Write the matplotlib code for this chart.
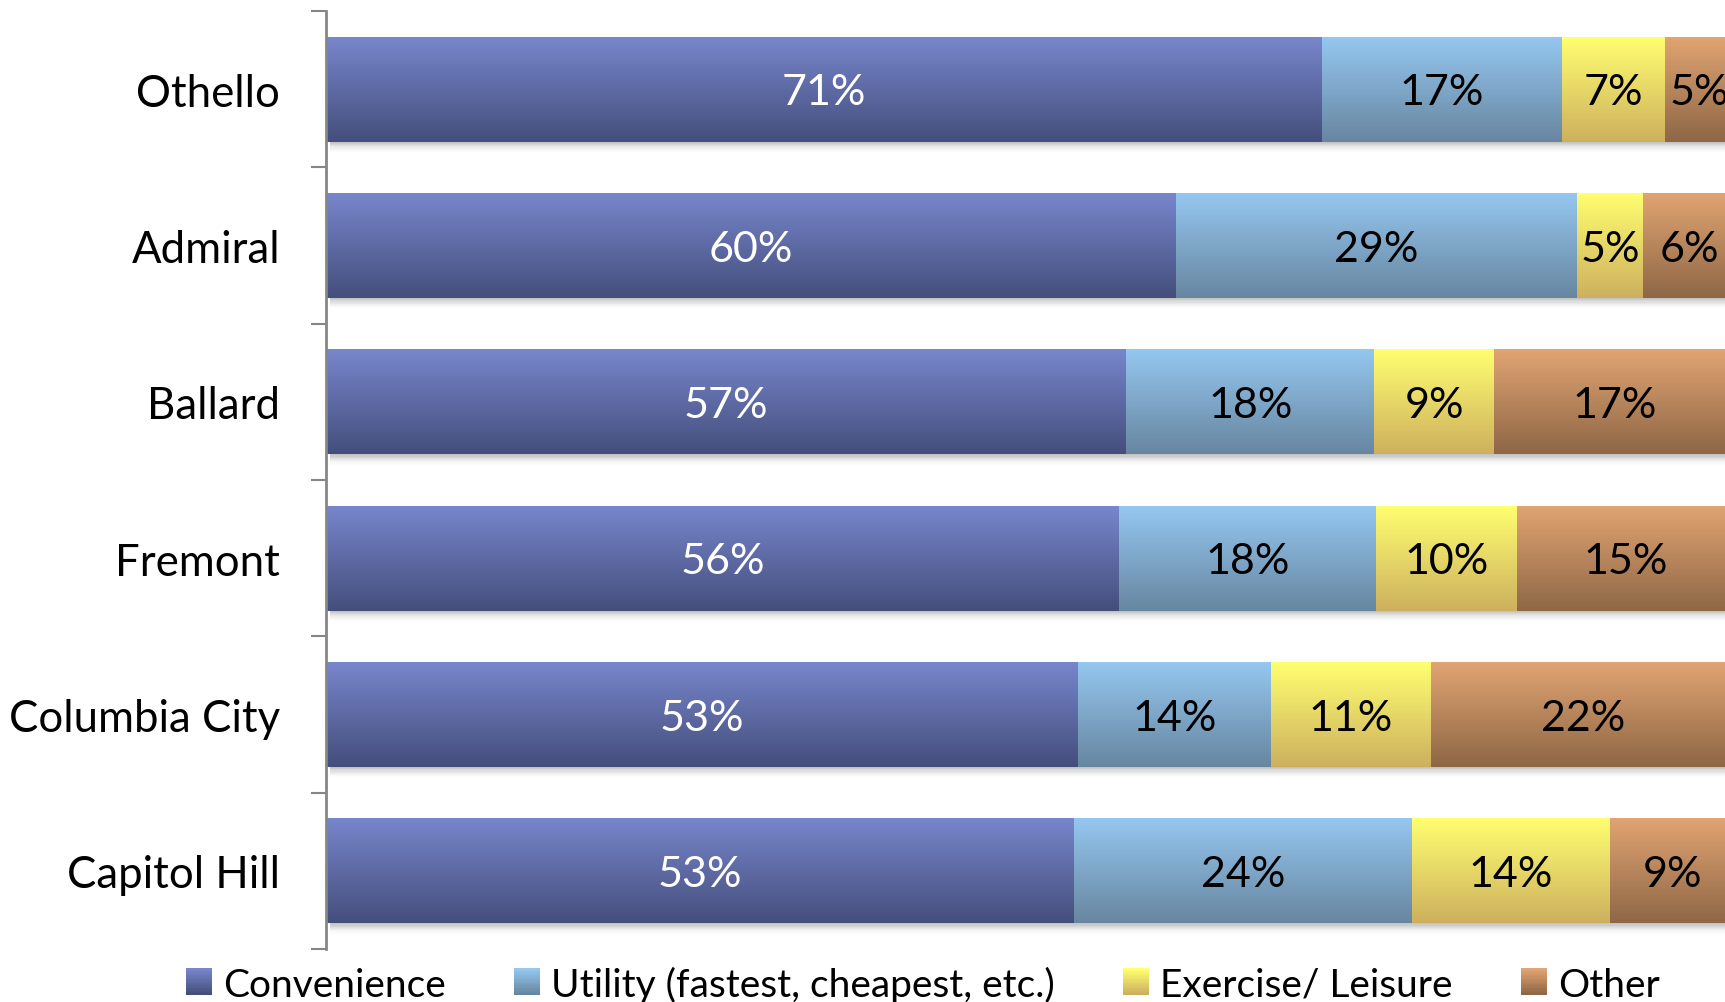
import numpy as np
import matplotlib
matplotlib.use("Agg")
import matplotlib.pyplot as plt
from matplotlib.colors import LinearSegmentedColormap
from matplotlib.patches import Rectangle
from matplotlib.legend_handler import HandlerBase

plt.rcParams['font.family'] = ['Lato', 'DejaVu Sans']

categories = ["Othello", "Admiral", "Ballard", "Fremont", "Columbia City", "Capitol Hill"]
series = ["Convenience", "Utility (fastest, cheapest, etc.)", "Exercise/ Leisure", "Other"]
convenience = [70.7, 60.3, 56.8, 56.3, 53.4, 53.1]
utility = [17.0, 28.5, 17.6, 18.2, 13.7, 24.0]
exercise = [7.3, 4.7, 8.5, 10.0, 11.3, 14.0]
other = [5.0, 6.5, 17.1, 15.5, 21.6, 8.9]
conv_lbl = [71, 60, 57, 56, 53, 53]
util_lbl = [17, 29, 18, 18, 14, 24]
exer_lbl = [7, 5, 9, 10, 11, 14]
other_lbl = [5, 6, 17, 15, 22, 9]

values = [convenience, utility, exercise, other]
labels = [conv_lbl, util_lbl, exer_lbl, other_lbl]
grad = [("#7886CC", "#444E7C"), ("#95C7F0", "#6786A0"),
        ("#FFFF70", "#CDB05E"), ("#E1A472", "#8E6746")]
text_colors = ["white", "black", "black", "black"]

W, H = 1725, 1003
fig = plt.figure(figsize=(W / 100, H / 100), dpi=100)
# the plot area runs slightly past the right edge of the figure (as in the reference)
ax = fig.add_axes([326 / W, 1 - 950 / H, (1735 - 326) / W, (950 - 12) / H])

y = np.arange(len(categories))
left = np.zeros(len(categories))
bar_h = 0.67
FS_CAT = 31.5
FS_BAR = 31
FS_LEG = 28

def gradient_img(ax, x0, y0, w, h, c_top, c_bot, z):
    cmap = LinearSegmentedColormap.from_list("g", [c_top, c_bot])
    g = np.linspace(0, 1, 256).reshape(-1, 1)
    ax.imshow(g, cmap=cmap, aspect='auto', extent=(x0, x0 + w, y0 + h, y0),
              origin='upper', zorder=z, interpolation='bilinear')

for i, (vals, lbls) in enumerate(zip(values, labels)):
    bars = ax.barh(y, vals, left=left, height=bar_h, color=grad[i][0], zorder=2)
    for b, lab in zip(bars, lbls):
        gradient_img(ax, b.get_x(), b.get_y(), b.get_width(), b.get_height(),
                     grad[i][0], grad[i][1], 3)
        ax.text(b.get_x() + b.get_width() / 2, b.get_y() + b.get_height() / 2 + 0.02,
                f"{lab}%", ha='center', va='center', fontsize=FS_BAR,
                color=text_colors[i], zorder=5)
    left = left + np.array(vals)

# soft shadow under each row of bars
for j in range(len(categories)):
    yb = y[j] + bar_h / 2
    nsteps = 10
    for k in range(nsteps):
        d = 0.075 * (k + 1) / nsteps
        ax.add_patch(Rectangle((0.3, yb), 110, d, facecolor='black',
                               alpha=0.045 * (1 - k / nsteps), lw=0, zorder=1))

ax.set_xlim(0, 100)
ax.set_ylim(len(categories) - 0.5, -0.5)
ax.set_yticks(y)
ax.set_yticklabels(categories, fontsize=FS_CAT)
ax.set_yticks(np.arange(len(categories) + 1) - 0.5, minor=True)
ax.tick_params(axis='y', which='major', length=0, pad=33)
ax.tick_params(axis='y', which='minor', length=11, width=1.5, color='#868686', direction='out')
ax.set_xticks([])
for s in ['top', 'right', 'bottom']:
    ax.spines[s].set_visible(False)
ax.spines['left'].set_color('#868686')
ax.spines['left'].set_linewidth(2)
ax.spines['left'].set_zorder(6)


class GradHandler(HandlerBase):
    def __init__(self, c_top, c_bot):
        super().__init__()
        self.c_top, self.c_bot = c_top, c_bot

    def create_artists(self, legend, orig_handle, xdescent, ydescent, width, height, fontsize, trans):
        cmap = LinearSegmentedColormap.from_list("g", [self.c_top, self.c_bot])
        n = 20
        arts = []
        side = width
        y0 = -ydescent + height / 2 - side / 2
        for k in range(n):
            c = cmap(k / (n - 1))
            arts.append(Rectangle((-xdescent, y0 + side * (n - 1 - k) / n), side, side / n + 0.3,
                                  facecolor=c, lw=0, transform=trans))
        return arts

handles = [Rectangle((0, 0), 1, 1) for _ in series]
hmap = {h: GradHandler(*grad[i]) for i, h in enumerate(handles)}
fig.legend(handles, series, handler_map=hmap, loc='center',
           bbox_to_anchor=(0.535, 1 - 985 / H), ncol=4, frameon=False,
           fontsize=FS_LEG, handlelength=0.68, handleheight=0.68, handletextpad=0.28,
           columnspacing=1.75, borderaxespad=0)

fig.savefig("out.png", dpi=100)
